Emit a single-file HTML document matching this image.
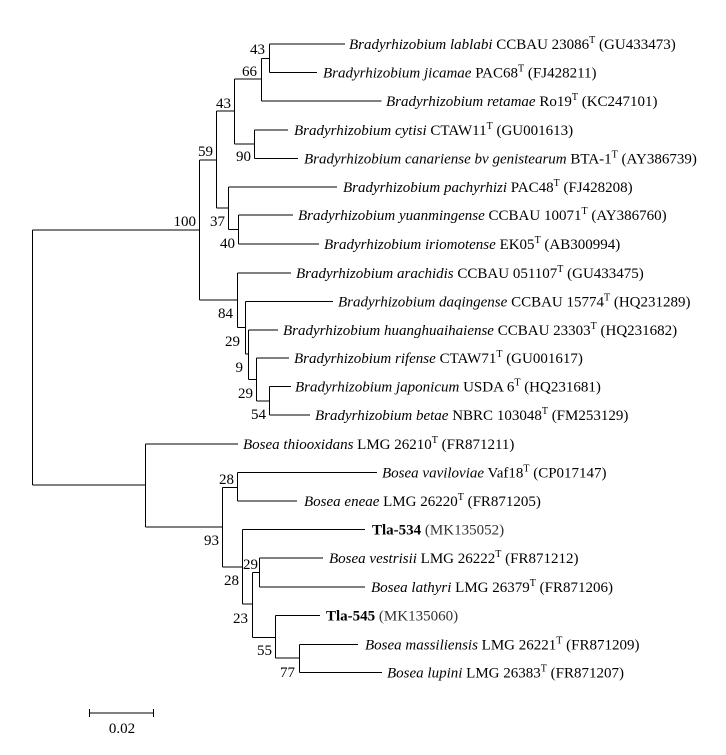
<!DOCTYPE html>
<html><head><meta charset="utf-8"><style>
html,body{margin:0;padding:0;background:#fff;}
svg{display:block;}
text{font-family:"Liberation Serif",serif;font-size:15px;fill:#000;}
.s{font-size:10px;}
</style></head><body>
<svg width="726" height="755" viewBox="0 0 726 755" xmlns="http://www.w3.org/2000/svg">
<g stroke="#000" stroke-width="1.2" fill="none" shape-rendering="crispEdges">
<line x1="32.5" y1="230" x2="32.5" y2="485"/>
<line x1="32.5" y1="230" x2="199.5" y2="230"/>
<line x1="32.5" y1="485" x2="145.5" y2="485"/>
<line x1="199.5" y1="160" x2="199.5" y2="300"/>
<line x1="199.5" y1="160" x2="216.5" y2="160"/>
<line x1="199.5" y1="300" x2="237.5" y2="300"/>
<line x1="216.5" y1="111" x2="216.5" y2="208"/>
<line x1="216.5" y1="111" x2="234.5" y2="111"/>
<line x1="216.5" y1="208" x2="228.5" y2="208"/>
<line x1="234.5" y1="79" x2="234.5" y2="144"/>
<line x1="234.5" y1="79" x2="261.5" y2="79"/>
<line x1="234.5" y1="144" x2="254.5" y2="144"/>
<line x1="261.5" y1="58.5" x2="261.5" y2="101"/>
<line x1="261.5" y1="58.5" x2="269.5" y2="58.5"/>
<line x1="269.5" y1="44" x2="269.5" y2="72.5"/>
<line x1="269.5" y1="44" x2="345" y2="44"/>
<line x1="269.5" y1="72.5" x2="317" y2="72.5"/>
<line x1="261.5" y1="101" x2="381.5" y2="101"/>
<line x1="254.5" y1="130" x2="254.5" y2="158.5"/>
<line x1="254.5" y1="130" x2="288" y2="130"/>
<line x1="254.5" y1="158.5" x2="298" y2="158.5"/>
<line x1="228.5" y1="187" x2="228.5" y2="229.5"/>
<line x1="228.5" y1="187" x2="337" y2="187"/>
<line x1="228.5" y1="229.5" x2="238.5" y2="229.5"/>
<line x1="238.5" y1="215" x2="238.5" y2="244"/>
<line x1="238.5" y1="215" x2="293" y2="215"/>
<line x1="238.5" y1="244" x2="319" y2="244"/>
<line x1="237.5" y1="273" x2="237.5" y2="327.5"/>
<line x1="237.5" y1="273" x2="291" y2="273"/>
<line x1="237.5" y1="327.5" x2="245.5" y2="327.5"/>
<line x1="245.5" y1="301.5" x2="245.5" y2="354"/>
<line x1="245.5" y1="301.5" x2="333" y2="301.5"/>
<line x1="245.5" y1="354" x2="248.5" y2="354"/>
<line x1="248.5" y1="330" x2="248.5" y2="379.5"/>
<line x1="248.5" y1="330" x2="278" y2="330"/>
<line x1="248.5" y1="379.5" x2="256.5" y2="379.5"/>
<line x1="256.5" y1="358" x2="256.5" y2="401"/>
<line x1="256.5" y1="358" x2="289" y2="358"/>
<line x1="256.5" y1="401" x2="269.5" y2="401"/>
<line x1="269.5" y1="386.5" x2="269.5" y2="415"/>
<line x1="269.5" y1="386.5" x2="291" y2="386.5"/>
<line x1="269.5" y1="415" x2="310" y2="415"/>
<line x1="145.5" y1="444" x2="145.5" y2="527"/>
<line x1="145.5" y1="444" x2="238" y2="444"/>
<line x1="145.5" y1="527" x2="222.5" y2="527"/>
<line x1="222.5" y1="487.5" x2="222.5" y2="567"/>
<line x1="222.5" y1="487.5" x2="237.5" y2="487.5"/>
<line x1="222.5" y1="567" x2="242.5" y2="567"/>
<line x1="237.5" y1="472.5" x2="237.5" y2="501"/>
<line x1="237.5" y1="472.5" x2="377" y2="472.5"/>
<line x1="237.5" y1="501" x2="297" y2="501"/>
<line x1="242.5" y1="529.5" x2="242.5" y2="604"/>
<line x1="242.5" y1="529.5" x2="365" y2="529.5"/>
<line x1="242.5" y1="604" x2="252.5" y2="604"/>
<line x1="252.5" y1="572.5" x2="252.5" y2="637.5"/>
<line x1="252.5" y1="572.5" x2="259.5" y2="572.5"/>
<line x1="252.5" y1="637.5" x2="275.5" y2="637.5"/>
<line x1="259.5" y1="558" x2="259.5" y2="587"/>
<line x1="259.5" y1="558" x2="323" y2="558"/>
<line x1="259.5" y1="587" x2="365" y2="587"/>
<line x1="275.5" y1="615.5" x2="275.5" y2="658"/>
<line x1="275.5" y1="615.5" x2="320" y2="615.5"/>
<line x1="275.5" y1="658" x2="299.5" y2="658"/>
<line x1="299.5" y1="644.5" x2="299.5" y2="672.5"/>
<line x1="299.5" y1="644.5" x2="358" y2="644.5"/>
<line x1="299.5" y1="672.5" x2="382" y2="672.5"/>
<line x1="89.5" y1="713" x2="153.5" y2="713"/>
<line x1="89.5" y1="709" x2="89.5" y2="717"/>
<line x1="153.5" y1="709" x2="153.5" y2="717"/>
</g>
<g>
<text x="265" y="54" text-anchor="end">43</text>
<text x="257" y="76" text-anchor="end">66</text>
<text x="231" y="108" text-anchor="end">43</text>
<text x="213" y="156" text-anchor="end">59</text>
<text x="196" y="226" text-anchor="end">100</text>
<text x="225" y="226" text-anchor="end">37</text>
<text x="251" y="161" text-anchor="end">90</text>
<text x="235" y="248" text-anchor="end">40</text>
<text x="233" y="318" text-anchor="end">84</text>
<text x="240" y="346" text-anchor="end">29</text>
<text x="243" y="372" text-anchor="end">9</text>
<text x="253" y="398" text-anchor="end">29</text>
<text x="266" y="419" text-anchor="end">54</text>
<text x="234" y="484" text-anchor="end">28</text>
<text x="219" y="545" text-anchor="end">93</text>
<text x="258" y="569" text-anchor="end">29</text>
<text x="239" y="585" text-anchor="end">28</text>
<text x="248" y="623" text-anchor="end">23</text>
<text x="272" y="655" text-anchor="end">55</text>
<text x="295" y="677" text-anchor="end">77</text>
<text x="122" y="733" text-anchor="middle">0.02</text>
<text x="349" y="49"><tspan font-style="italic">Bradyrhizobium lablabi</tspan> CCBAU 23086<tspan class="s" dy="-6">T</tspan><tspan dy="6"> (GU433473)</tspan></text>
<text x="323" y="77.5"><tspan font-style="italic">Bradyrhizobium jicamae</tspan> PAC68<tspan class="s" dy="-6">T</tspan><tspan dy="6"> (FJ428211)</tspan></text>
<text x="386" y="106"><tspan font-style="italic">Bradyrhizobium retamae</tspan> Ro19<tspan class="s" dy="-6">T</tspan><tspan dy="6"> (KC247101)</tspan></text>
<text x="294" y="135"><tspan font-style="italic">Bradyrhizobium cytisi</tspan> CTAW11<tspan class="s" dy="-6">T</tspan><tspan dy="6"> (GU001613)</tspan></text>
<text x="304" y="163.5"><tspan font-style="italic">Bradyrhizobium canariense bv genistearum</tspan> BTA-1<tspan class="s" dy="-6">T</tspan><tspan dy="6"> (AY386739)</tspan></text>
<text x="343" y="192"><tspan font-style="italic">Bradyrhizobium pachyrhizi</tspan> PAC48<tspan class="s" dy="-6">T</tspan><tspan dy="6"> (FJ428208)</tspan></text>
<text x="298" y="220"><tspan font-style="italic">Bradyrhizobium yuanmingense</tspan> CCBAU 10071<tspan class="s" dy="-6">T</tspan><tspan dy="6"> (AY386760)</tspan></text>
<text x="324" y="249"><tspan font-style="italic">Bradyrhizobium iriomotense</tspan> EK05<tspan class="s" dy="-6">T</tspan><tspan dy="6"> (AB300994)</tspan></text>
<text x="296" y="278"><tspan font-style="italic">Bradyrhizobium arachidis</tspan> CCBAU 051107<tspan class="s" dy="-6">T</tspan><tspan dy="6"> (GU433475)</tspan></text>
<text x="338" y="306.5"><tspan font-style="italic">Bradyrhizobium daqingense</tspan> CCBAU 15774<tspan class="s" dy="-6">T</tspan><tspan dy="6"> (HQ231289)</tspan></text>
<text x="283" y="335"><tspan font-style="italic">Bradyrhizobium huanghuaihaiense</tspan> CCBAU 23303<tspan class="s" dy="-6">T</tspan><tspan dy="6"> (HQ231682)</tspan></text>
<text x="294" y="363"><tspan font-style="italic">Bradyrhizobium rifense</tspan> CTAW71<tspan class="s" dy="-6">T</tspan><tspan dy="6"> (GU001617)</tspan></text>
<text x="295" y="391.5"><tspan font-style="italic">Bradyrhizobium japonicum</tspan> USDA 6<tspan class="s" dy="-6">T</tspan><tspan dy="6"> (HQ231681)</tspan></text>
<text x="315" y="420"><tspan font-style="italic">Bradyrhizobium betae</tspan> NBRC 103048<tspan class="s" dy="-6">T</tspan><tspan dy="6"> (FM253129)</tspan></text>
<text x="243" y="449"><tspan font-style="italic">Bosea thiooxidans</tspan> LMG 26210<tspan class="s" dy="-6">T</tspan><tspan dy="6"> (FR871211)</tspan></text>
<text x="382" y="477.5"><tspan font-style="italic">Bosea vaviloviae</tspan> Vaf18<tspan class="s" dy="-6">T</tspan><tspan dy="6"> (CP017147)</tspan></text>
<text x="304" y="506"><tspan font-style="italic">Bosea eneae</tspan> LMG 26220<tspan class="s" dy="-6">T</tspan><tspan dy="6"> (FR871205)</tspan></text>
<text x="372" y="534.5"><tspan font-weight="bold">Tla-534</tspan> <tspan fill="#333">(MK135052)</tspan></text>
<text x="329" y="563"><tspan font-style="italic">Bosea vestrisii</tspan> LMG 26222<tspan class="s" dy="-6">T</tspan><tspan dy="6"> (FR871212)</tspan></text>
<text x="371" y="592"><tspan font-weight="bold" font-style="normal"></tspan><tspan font-style="italic">Bosea lathyri</tspan> LMG 26379<tspan class="s" dy="-6">T</tspan><tspan dy="6"> (FR871206)</tspan></text>
<text x="326" y="620.5"><tspan font-weight="bold">Tla-545</tspan> <tspan fill="#333">(MK135060)</tspan></text>
<text x="365" y="649.5"><tspan font-style="italic">Bosea massiliensis</tspan> LMG 26221<tspan class="s" dy="-6">T</tspan><tspan dy="6"> (FR871209)</tspan></text>
<text x="387" y="677.5"><tspan font-style="italic">Bosea lupini</tspan> LMG 26383<tspan class="s" dy="-6">T</tspan><tspan dy="6"> (FR871207)</tspan></text>
</g>
</svg>
</body></html>
